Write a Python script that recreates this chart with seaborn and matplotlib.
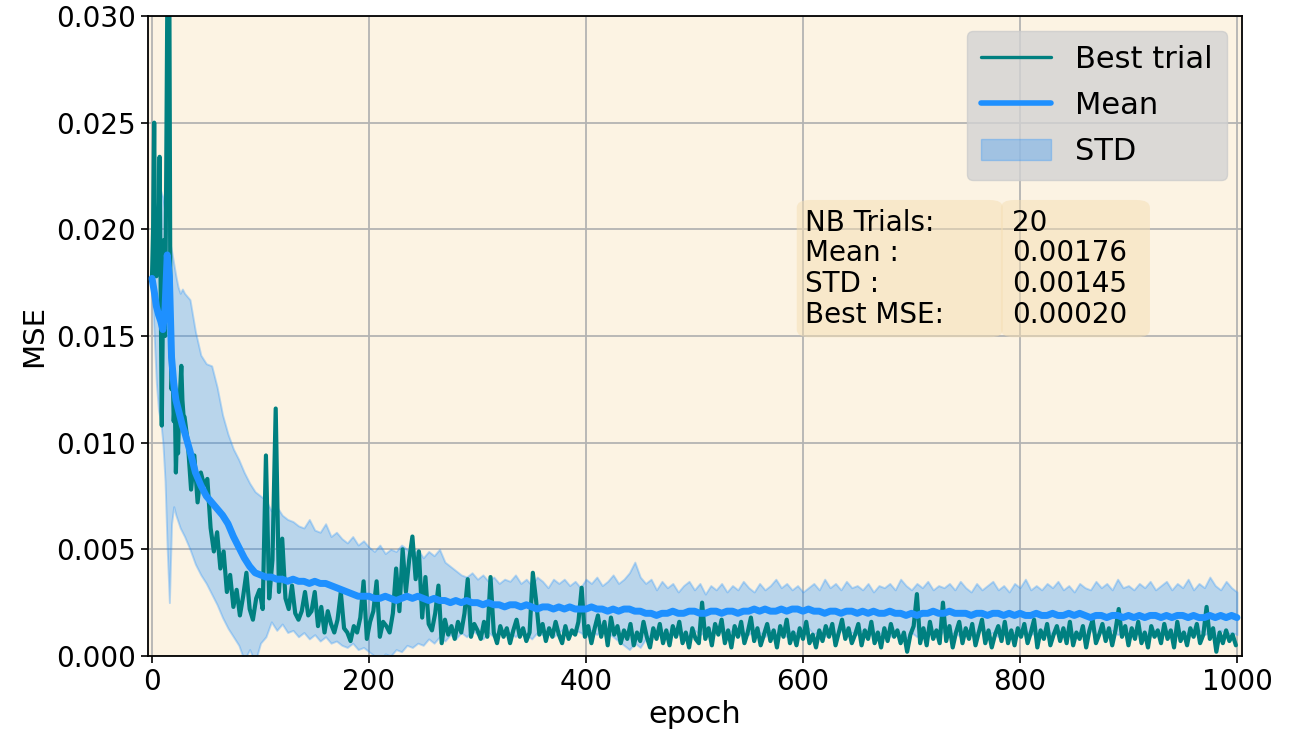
import numpy as np
import matplotlib
matplotlib.use("Agg")
import matplotlib.pyplot as plt
import seaborn as sns
from matplotlib.patches import FancyBboxPatch, Patch
from matplotlib.lines import Line2D

# ---------------- data ----------------
best_epoch = np.concatenate([np.arange(0, 30, 1), np.arange(30, 300, 3), np.arange(300, 1001, 3)])
best_mse = [
    0.0178, 0.0200, 0.0250, 0.0185, 0.0178, 0.0205, 0.0190, 0.0234, 0.0170, 0.0108,
    0.0160, 0.0195, 0.0150, 0.0220, 0.0300, 0.0330, 0.0310, 0.0150, 0.0125, 0.0135,
    0.0110, 0.0120, 0.0086, 0.0105, 0.0095, 0.0115, 0.0125, 0.0136, 0.0120, 0.0113,
    # 30 .. 297 step 3
    0.0112, 0.0100, 0.0078, 0.0094, 0.0072, 0.0086, 0.0080, 0.0083, 0.0060, 0.0049,
    0.0058, 0.0041, 0.0049, 0.0030, 0.0038, 0.0023, 0.0031, 0.0019, 0.0028, 0.0039,
    0.0022, 0.0017, 0.0027, 0.0031, 0.0022, 0.0094, 0.0027, 0.0045, 0.0116, 0.0030,
    0.0055, 0.0027, 0.0022, 0.0033, 0.0020, 0.0017, 0.0021, 0.0030, 0.0019, 0.0021,
    0.0030, 0.0014, 0.0023, 0.0011, 0.0021, 0.0015, 0.0011, 0.0017, 0.0030, 0.0013,
    0.0011, 0.0007, 0.0014, 0.0011, 0.0018, 0.0035, 0.0008, 0.0016, 0.0021, 0.0035,
    0.0009, 0.0016, 0.0014, 0.0011, 0.0020, 0.0041, 0.0021, 0.0050, 0.0030, 0.0045,
    0.0056, 0.0036, 0.0049, 0.0018, 0.0037, 0.0015, 0.0012, 0.0020, 0.0033, 0.0006,
    0.0017, 0.0010, 0.0014, 0.0008, 0.0016, 0.0011, 0.0020, 0.0036, 0.0009, 0.0015,
    # 300 .. 999 step 3
    0.0012, 0.0008, 0.0016, 0.0009, 0.0037, 0.0011, 0.0006, 0.0014, 0.0009, 0.0013,
    0.0006, 0.0012, 0.0017, 0.0009, 0.0013, 0.0007, 0.0011, 0.0039, 0.0026, 0.0010,
    0.0015, 0.0007, 0.0013, 0.0009, 0.0016, 0.0010, 0.0006, 0.0014, 0.0008, 0.0012,
    0.0010, 0.0016, 0.0032, 0.0009, 0.0014, 0.0006, 0.0013, 0.0019, 0.0009, 0.0016,
    0.0005, 0.0018, 0.0010, 0.0014, 0.0006, 0.0012, 0.0008, 0.0015, 0.0005, 0.0011,
    0.0007, 0.0016, 0.0009, 0.0004, 0.0013, 0.0008, 0.0015, 0.0006, 0.0012, 0.0005,
    0.0014, 0.0009, 0.0016, 0.0006, 0.0011, 0.0004, 0.0013, 0.0008, 0.0006, 0.0025,
    0.0008, 0.0013, 0.0005, 0.0015, 0.0010, 0.0017, 0.0006, 0.0012, 0.0004, 0.0014,
    0.0009, 0.0016, 0.0006, 0.0011, 0.0018, 0.0007, 0.0013, 0.0005, 0.0010, 0.0015,
    0.0007, 0.0012, 0.0004, 0.0014, 0.0009, 0.0017, 0.0006, 0.0011, 0.0005, 0.0013,
    0.0008, 0.0016, 0.0006, 0.0010, 0.0004, 0.0012, 0.0007, 0.0014, 0.0009, 0.0015,
    0.0005, 0.0011, 0.0017, 0.0008, 0.0013, 0.0006, 0.0010, 0.0015, 0.0005, 0.0012,
    0.0008, 0.0016, 0.0006, 0.0011, 0.0004, 0.0013, 0.0007, 0.0015, 0.0009, 0.0012,
    0.0006, 0.0011, 0.0002, 0.0010, 0.0014, 0.0029, 0.0006, 0.0013, 0.0005, 0.0016,
    0.0008, 0.0012, 0.0006, 0.0025, 0.0007, 0.0014, 0.0004, 0.0011, 0.0016, 0.0006,
    0.0013, 0.0008, 0.0015, 0.0005, 0.0011, 0.0017, 0.0006, 0.0012, 0.0004, 0.0010,
    0.0014, 0.0007, 0.0016, 0.0006, 0.0012, 0.0005, 0.0013, 0.0009, 0.0015, 0.0006,
    0.0011, 0.0017, 0.0004, 0.0012, 0.0008, 0.0015, 0.0005, 0.0010, 0.0014, 0.0007,
    0.0013, 0.0006, 0.0016, 0.0005, 0.0011, 0.0008, 0.0014, 0.0004, 0.0012, 0.0017,
    0.0006, 0.0010, 0.0015, 0.0007, 0.0013, 0.0005, 0.0012, 0.0022, 0.0009, 0.0014,
    0.0005, 0.0013, 0.0008, 0.0016, 0.0006, 0.0011, 0.0004, 0.0014, 0.0009, 0.0012,
    0.0006, 0.0015, 0.0008, 0.0012, 0.0004, 0.0016, 0.0007, 0.0011, 0.0005, 0.0013,
    0.0009, 0.0015, 0.0006, 0.0010, 0.0023, 0.0008, 0.0013, 0.0002, 0.0011, 0.0006,
    0.0012, 0.0007, 0.0010, 0.0005,
]

mean_epoch = np.concatenate([np.arange(0, 30, 2), np.arange(30, 200, 5), np.arange(200, 1001, 5)])
mean_mse = [
    0.0177, 0.0171, 0.0164, 0.0160, 0.0157, 0.0153, 0.0163, 0.0188, 0.0178, 0.0140,
    0.0128, 0.0120, 0.0116, 0.0112, 0.0108,
    # 30 .. 195 step 5
    0.0105, 0.0096, 0.0086, 0.0080, 0.0075, 0.0072, 0.0069, 0.0066, 0.0062, 0.0056,
    0.0051, 0.0046, 0.0042, 0.0039, 0.0038, 0.0037, 0.0037, 0.0036, 0.0036, 0.0035,
    0.0036, 0.0035, 0.0035, 0.0034, 0.0035, 0.0034, 0.0034, 0.0033, 0.0032, 0.0031,
    0.0030, 0.0029, 0.0028, 0.0028,
    # 200 .. 1000 step 5
    0.0028, 0.0027, 0.0027, 0.0028, 0.0027, 0.0026, 0.0027, 0.0028, 0.0027, 0.0028,
    0.0027, 0.0026, 0.0027, 0.0026, 0.0026, 0.0025, 0.0026, 0.0025, 0.0026, 0.0025,
    0.0025, 0.0024, 0.0025, 0.0024, 0.0024, 0.0023, 0.0024, 0.0024, 0.0023, 0.0024,
    0.0023, 0.0022, 0.0023, 0.0023, 0.0022, 0.0023, 0.0022, 0.0023, 0.0022, 0.0022,
    0.0022, 0.0023, 0.0022, 0.0022, 0.0021, 0.0022, 0.0021, 0.0022, 0.0022, 0.0021,
    0.0021, 0.0020, 0.0020, 0.0019, 0.0020, 0.0020, 0.0021, 0.0020, 0.0020, 0.0021,
    0.0021, 0.0020, 0.0020, 0.0021, 0.0021, 0.0020, 0.0021, 0.0021, 0.0020, 0.0021,
    0.0021, 0.0022, 0.0021, 0.0022, 0.0021, 0.0021, 0.0022, 0.0021, 0.0022, 0.0022,
    0.0021, 0.0022, 0.0021, 0.0021, 0.0020, 0.0021, 0.0021, 0.0020, 0.0021, 0.0021,
    0.0020, 0.0021, 0.0020, 0.0021, 0.0020, 0.0020, 0.0021, 0.0020, 0.0020, 0.0019,
    0.0020, 0.0019, 0.0020, 0.0020, 0.0021, 0.0020, 0.0020, 0.0021, 0.0020, 0.0020,
    0.0020, 0.0019, 0.0020, 0.0020, 0.0019, 0.0020, 0.0020, 0.0019, 0.0020, 0.0019,
    0.0020, 0.0019, 0.0019, 0.0020, 0.0019, 0.0019, 0.0020, 0.0019, 0.0019, 0.0020,
    0.0019, 0.0020, 0.0019, 0.0018, 0.0019, 0.0019, 0.0018, 0.0019, 0.0019, 0.0018,
    0.0019, 0.0018, 0.0019, 0.0018, 0.0019, 0.0019, 0.0018, 0.0019, 0.0018, 0.0019,
    0.0019, 0.0018, 0.0019, 0.0018, 0.0018, 0.0019, 0.0018, 0.0019, 0.0018, 0.0019,
    0.0018,
]

band_epoch = np.concatenate([np.arange(0, 30, 2), np.arange(30, 1001, 5)])
band_upper = [
    0.0180, 0.0195, 0.0205, 0.0212, 0.0218, 0.0215, 0.0208, 0.0200, 0.0195, 0.0190,
    0.0184, 0.0178, 0.0173, 0.0170, 0.0172,
    0.0170, 0.0167, 0.0152, 0.0141, 0.0137, 0.0136, 0.0126, 0.0113, 0.0104, 0.0097,
    0.0092, 0.0086, 0.0081, 0.0077, 0.0075, 0.0073, 0.0068, 0.0070, 0.0066, 0.0064,
    0.0063, 0.0061, 0.0060, 0.0064, 0.0059, 0.0058, 0.0062, 0.0056, 0.0058, 0.0055,
    0.0053, 0.0056, 0.0052, 0.0054, 0.0051, 0.0049, 0.0052, 0.0048, 0.0050, 0.0049,
    0.0052, 0.0050, 0.0047, 0.0050, 0.0046, 0.0049, 0.0047, 0.0050, 0.0044, 0.0042,
    0.0040, 0.0038, 0.0037, 0.0039, 0.0036, 0.0038, 0.0035, 0.0037, 0.0034, 0.0036,
    0.0035, 0.0038, 0.0034, 0.0036, 0.0033, 0.0037, 0.0035, 0.0032, 0.0036, 0.0034,
    0.0036, 0.0033, 0.0035, 0.0032, 0.0036, 0.0034, 0.0037, 0.0033, 0.0035, 0.0038,
    0.0034, 0.0036, 0.0039, 0.0044, 0.0037, 0.0034, 0.0036, 0.0031, 0.0035, 0.0032,
    0.0034, 0.0030, 0.0033, 0.0035, 0.0031, 0.0034, 0.0029, 0.0033, 0.0031, 0.0034,
    0.0030, 0.0033, 0.0031, 0.0035, 0.0032, 0.0030, 0.0034, 0.0031, 0.0033, 0.0036,
    0.0032, 0.0034, 0.0031, 0.0033, 0.0030, 0.0032, 0.0034, 0.0031, 0.0036, 0.0032,
    0.0034, 0.0031, 0.0035, 0.0032, 0.0033, 0.0031, 0.0034, 0.0030, 0.0033, 0.0032,
    0.0034, 0.0031, 0.0036, 0.0033, 0.0031, 0.0034, 0.0032, 0.0035, 0.0031, 0.0033,
    0.0032, 0.0034, 0.0031, 0.0035, 0.0032, 0.0030, 0.0034, 0.0031, 0.0033, 0.0035,
    0.0031, 0.0033, 0.0030, 0.0034, 0.0032, 0.0036, 0.0031, 0.0033, 0.0031, 0.0034,
    0.0032, 0.0035, 0.0031, 0.0033, 0.0030, 0.0034, 0.0032, 0.0031, 0.0035, 0.0032,
    0.0034, 0.0031, 0.0036, 0.0032, 0.0033, 0.0031, 0.0034, 0.0032, 0.0035, 0.0031,
    0.0033, 0.0035, 0.0031, 0.0034, 0.0032, 0.0036, 0.0031, 0.0034, 0.0032, 0.0037,
    0.0033, 0.0031, 0.0035, 0.0032, 0.0030,
]
band_lower = [
    0.0175, 0.0150, 0.0128, 0.0115, 0.0110, 0.0100, 0.0082, 0.0050, 0.0025, 0.0062,
    0.0070, 0.0066, 0.0063, 0.0060, 0.0058,
    0.0056, 0.0050, 0.0043, 0.0038, 0.0034, 0.0029, 0.0024, 0.0018, 0.0013, 0.0009,
    0.0005, -0.0002, 0.0003, -0.0003, 0.0006, 0.0009, 0.0016, 0.0012, 0.0015, 0.0011,
    0.0012, 0.0009, 0.0011, 0.0008, 0.0010, 0.0007, 0.0009, 0.0006, 0.0007, 0.0005,
    0.0004, 0.0006, 0.0003, 0.0004, 0.0002, 0.0000, -0.0002, 0.0001, 0.0000, 0.0003,
    0.0002, 0.0005, 0.0004, 0.0006, 0.0005, 0.0008, 0.0006, 0.0009, 0.0007, 0.0010,
    0.0008, 0.0011, 0.0009, 0.0012, 0.0010, 0.0008, 0.0011, 0.0009, 0.0012, 0.0010,
    0.0011, 0.0009, 0.0012, 0.0010, 0.0008, 0.0011, 0.0010, 0.0012, 0.0009, 0.0011,
    0.0013, 0.0010, 0.0012, 0.0011, 0.0009, 0.0012, 0.0010, 0.0013, 0.0011, 0.0009,
    0.0007, 0.0005, 0.0003, 0.0006, 0.0004, 0.0008, 0.0010, 0.0009, 0.0011, 0.0010,
    0.0012, 0.0010, 0.0011, 0.0009, 0.0012, 0.0010, 0.0011, 0.0009, 0.0012, 0.0011,
    0.0010, 0.0012, 0.0009, 0.0011, 0.0010, 0.0012, 0.0011, 0.0009, 0.0012, 0.0010,
    0.0011, 0.0009, 0.0012, 0.0010, 0.0011, 0.0013, 0.0010, 0.0012, 0.0009, 0.0011,
    0.0010, 0.0012, 0.0009, 0.0011, 0.0010, 0.0012, 0.0009, 0.0011, 0.0010, 0.0012,
    0.0009, 0.0011, 0.0010, 0.0008, 0.0011, 0.0009, 0.0012, 0.0010, 0.0011, 0.0009,
    0.0012, 0.0010, 0.0011, 0.0009, 0.0012, 0.0010, 0.0011, 0.0013, 0.0010, 0.0011,
    0.0009, 0.0012, 0.0010, 0.0011, 0.0009, 0.0012, 0.0010, 0.0011, 0.0009, 0.0012,
    0.0010, 0.0011, 0.0009, 0.0012, 0.0010, 0.0011, 0.0009, 0.0012, 0.0010, 0.0011,
    0.0009, 0.0012, 0.0010, 0.0011, 0.0009, 0.0012, 0.0010, 0.0011, 0.0009, 0.0012,
    0.0010, 0.0011, 0.0009, 0.0012, 0.0010, 0.0011, 0.0009, 0.0012, 0.0010, 0.0011,
    0.0009, 0.0012, 0.0010, 0.0011, 0.0010,
]

x_ticks = [0, 200, 400, 600, 800, 1000]
y_ticks = [0.000, 0.005, 0.010, 0.015, 0.020, 0.025, 0.030]
legend_labels = ["Best trial", "Mean", "STD"]
stat_labels = ["NB Trials:", "Mean :", "STD :", "Best MSE:"]
stat_values = ["20", "0.00176", "0.00145", "0.00020"]

# ---------------- drawing ----------------
sns.set_style("ticks")
plt.rcParams["font.family"] = ["DejaVu Sans"]
plt.rcParams["text.color"] = "black"
plt.rcParams["axes.labelcolor"] = "black"
plt.rcParams["xtick.color"] = "black"
plt.rcParams["ytick.color"] = "black"

fig = plt.figure(figsize=(12.96, 7.34), dpi=100)
ax = fig.add_axes([0.1142, 0.1063, 0.8441, 0.8719])
ax.set_facecolor("#fcf3e3")

ax.fill_between(band_epoch, band_lower, band_upper, color="dodgerblue",
                alpha=0.3, linewidth=1.4, zorder=1.5)
sns.lineplot(x=best_epoch, y=best_mse, ax=ax, color="teal", linewidth=3.0, zorder=2)
sns.lineplot(x=mean_epoch, y=mean_mse, ax=ax, color="dodgerblue", linewidth=5.0, zorder=3)

ax.set_xlim(-3.7, 1004.6)
ax.set_ylim(0, 0.03)
ax.set_xticks(x_ticks)
ax.set_yticks(y_ticks)
ax.set_yticklabels([f"{v:.3f}" for v in y_ticks])
ax.tick_params(axis="both", labelsize=20, length=5, width=1.2, color="black",
               labelcolor="black")
ax.grid(True, color="#b3b3b3", linewidth=1.3)
ax.set_axisbelow(True)
for s in ax.spines.values():
    s.set_visible(True)
    s.set_color("black")
    s.set_linewidth(1.3)
ax.set_xlabel("epoch", fontsize=22, labelpad=3, color="black")
ax.set_ylabel("MSE", fontsize=21, labelpad=6, color="black")

handles = [
    Line2D([], [], color="teal", linewidth=2.4),
    Line2D([], [], color="dodgerblue", linewidth=4.0),
    Patch(facecolor="dodgerblue", edgecolor="dodgerblue", alpha=0.3),
]
leg = ax.legend(handles, legend_labels, loc="upper right", fontsize=22,
                facecolor="lightgray", framealpha=0.8, edgecolor="0.8",
                handlelength=2.3, borderpad=0.45, labelspacing=0.56)
leg.set_zorder(10)

for (x0, w) in [(0.593, 0.1885), (0.7797, 0.1362)]:
    box = FancyBboxPatch((x0, 0.498), w, 0.2145, transform=ax.transAxes,
                         boxstyle="round,pad=0,rounding_size=0.012",
                         facecolor="wheat", alpha=0.5, edgecolor="none", zorder=9)
    ax.add_patch(box)
ax.text(0.601, 0.699, "\n".join(stat_labels), transform=ax.transAxes, va="top",
        ha="left", fontsize=20, linespacing=1.13, zorder=11, color="black")
ax.text(0.790, 0.699, "\n".join(stat_values), transform=ax.transAxes, va="top",
        ha="left", fontsize=20, linespacing=1.13, zorder=11, color="black")

fig.savefig("out.png", dpi=100)
